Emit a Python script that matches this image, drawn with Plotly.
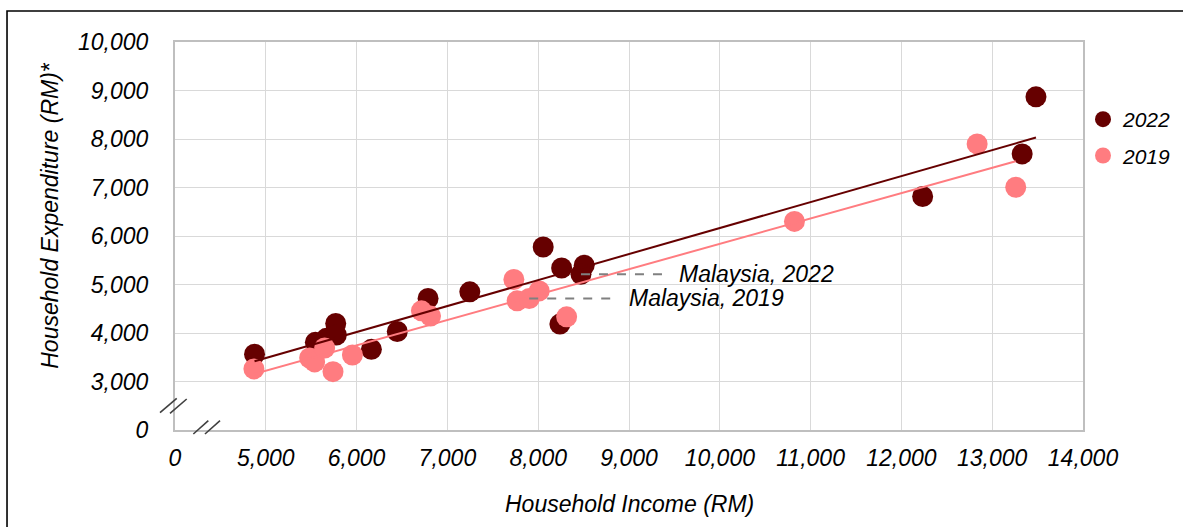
import numpy as np
import plotly.graph_objects as go

# Mean monthly household income vs expenditure by state (RM)
income_2022 = [4876, 5546, 5667, 5770, 5777, 6163, 6448, 6787, 7247,
               8055, 8258, 8507, 8239, 12234, 13330, 13482]
expend_2022 = [3561, 3808, 3890, 4198, 3958, 3664, 4030, 4712, 4848,
               5773, 5341, 5397, 4184, 6815, 7693, 8870]

income_2019 = [4869, 5483, 5538, 5648, 5740, 5954, 6714, 6814, 7732,
               7768, 8011, 8313, 10822, 12834, 13259]
expend_2019 = [3259, 3485, 3403, 3691, 3203, 3547, 4457, 4348, 5103,
               4663, 4868, 4334, 6301, 7898, 7006]

# National figures
malaysia_2022 = (8471, 5212)
malaysia_2019 = (7901, 4712)

x_tickvals = [4000, 5000, 6000, 7000, 8000, 9000, 10000, 11000, 12000, 13000, 14000]
x_ticktext = ["0", "5,000", "6,000", "7,000", "8,000", "9,000", "10,000",
              "11,000", "12,000", "13,000", "14,000"]
y_tickvals = [2000, 3000, 4000, 5000, 6000, 7000, 8000, 9000, 10000]
y_ticktext = ["0", "3,000", "4,000", "5,000", "6,000", "7,000", "8,000", "9,000", "10,000"]

C2022 = "#660000"
C2019 = "#FF7C80"
FONT = "Liberation Sans, Arial, sans-serif"

x22 = np.array(income_2022 + [malaysia_2022[0]], dtype=float)
y22 = np.array(expend_2022 + [malaysia_2022[1]], dtype=float)
x19 = np.array(income_2019 + [malaysia_2019[0]], dtype=float)
y19 = np.array(expend_2019 + [malaysia_2019[1]], dtype=float)


def trend(x, y):
    m, b = np.polyfit(x, y, 1)
    xs = np.array([x.min(), x.max()])
    return xs, m * xs + b


fig = go.Figure()
fig.add_trace(go.Scatter(x=x22, y=y22, mode="markers", name="2022",
                         marker=dict(color=C2022, size=21), legendgroup="a"))
fig.add_trace(go.Scatter(x=x19, y=y19, mode="markers", name="2019",
                         marker=dict(color=C2019, size=21), legendgroup="b"))

tx, ty = trend(x22, y22)
fig.add_trace(go.Scatter(x=tx, y=ty, mode="lines", showlegend=False,
                         line=dict(color=C2022, width=2), hoverinfo="skip"))
tx, ty = trend(x19, y19)
fig.add_trace(go.Scatter(x=tx, y=ty, mode="lines", showlegend=False,
                         line=dict(color=C2019, width=2), hoverinfo="skip"))

shapes = []
annotations = []

# Leader lines and labels for the national points
for (mx, my), label, length in [(malaysia_2022, "Malaysia, 2022", 87),
                                (malaysia_2019, "Malaysia, 2019", 89)]:
    shapes.append(dict(type="line", xref="x", yref="y", xsizemode="pixel",
                       xanchor=mx, x0=0, x1=length, y0=my, y1=my,
                       line=dict(color="#808080", width=2, dash="dash")))
    annotations.append(dict(x=mx, y=my, xref="x", yref="y", text=label,
                            showarrow=False, xanchor="left", yanchor="middle",
                            xshift=length + 9,
                            font=dict(family=FONT, size=23, color="#000", style="italic")))

# Axis break marks
brk = dict(color="#404040", width=1.6)
for x0, y0, x1, y1 in [(-0.0165, 0.0446, 0.0019, 0.0817),
                       (-0.0055, 0.0430, 0.0129, 0.0799),
                       (0.0202, -0.0103, 0.0367, 0.0240),
                       (0.0330, -0.0103, 0.0496, 0.0240)]:
    shapes.append(dict(type="line", xref="paper", yref="paper",
                       x0=x0, y0=y0, x1=x1, y1=y1, line=brk))

# Outer frame
shapes.append(dict(type="rect", xref="paper", yref="paper",
                   x0=-0.185, y0=-0.4, x1=1.25, y1=1.0799,
                   line=dict(color="#000", width=1.6), layer="below"))

# Axis titles
annotations.append(dict(x=0.5, y=-0.19, xref="paper", yref="paper",
                        text="Household Income (RM)", showarrow=False,
                        xanchor="center", yanchor="middle",
                        font=dict(family=FONT, size=23, color="#000", style="italic")))
annotations.append(dict(x=-0.138, y=0.554, xref="paper", yref="paper",
                        text="Household Expenditure (RM)*", showarrow=False,
                        textangle=-90, xanchor="center", yanchor="middle",
                        font=dict(family=FONT, size=23, color="#000", style="italic")))

tickfont = dict(family=FONT, size=23, color="#000", style="italic")

fig.update_layout(
    width=1183, height=527,
    margin=dict(l=175, r=100, t=42, b=97, autoexpand=False),
    paper_bgcolor="white", plot_bgcolor="white",
    showlegend=True,
    legend=dict(x=1.0, y=0.853, xanchor="left", yanchor="top",
                font=dict(family=FONT, size=21, color="#000", style="italic"),
                tracegroupgap=6, bgcolor="rgba(0,0,0,0)"),
    xaxis=dict(range=[4000, 14000], tickvals=x_tickvals, ticktext=x_ticktext,
               tickfont=tickfont, showgrid=True, gridcolor="#D9D9D9", gridwidth=1,
               showline=True, linecolor="#BFBFBF", linewidth=2, mirror=True,
               ticks="outside", ticklen=6, tickcolor="rgba(0,0,0,0)",
               zeroline=False, fixedrange=True),
    yaxis=dict(range=[2000, 10000], tickvals=y_tickvals, ticktext=y_ticktext,
               tickfont=tickfont, showgrid=True, gridcolor="#D9D9D9", gridwidth=1,
               showline=True, linecolor="#BFBFBF", linewidth=2, mirror=True,
               ticks="outside", ticklen=20, tickcolor="rgba(0,0,0,0)",
               zeroline=False, fixedrange=True),
    shapes=shapes,
    annotations=annotations,
)

fig.write_html("out.html")
